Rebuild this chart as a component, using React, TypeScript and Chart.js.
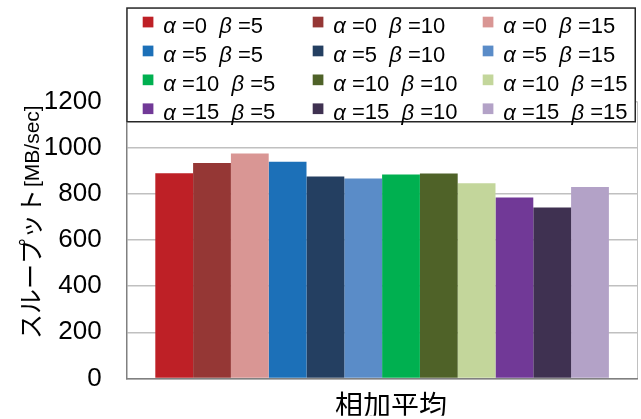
import React, { useEffect, useRef } from 'react';
import { Chart, registerables } from 'chart.js';

Chart.register(...registerables);

const categories = ['相加平均'];
const alphaValues = [0, 0, 0, 5, 5, 5, 10, 10, 10, 15, 15, 15];
const betaValues = [5, 10, 15, 5, 10, 15, 5, 10, 15, 5, 10, 15];
const throughput = [890, 934, 975, 940, 876, 867, 884, 889, 846, 784, 741, 830];
const seriesColors = [
  '#BE2026', '#953735', '#D99694',
  '#1C70B8', '#243F61', '#5A8CC8',
  '#00B050', '#4F6228', '#C3D69B',
  '#713997', '#3F3151', '#B3A2C7',
];
const yMin = 0;
const yMax = 1200;
const yStep = 200;
const yTitleMain = 'スループット';
const yTitleUnit = '[MB/sec]';

const SANS = '"Liberation Sans", Arial, sans-serif';
const CJK = '"Noto Sans CJK JP", sans-serif';

const gridLegend = {
  id: 'gridLegend',
  afterDraw(chart: any) {
    const ctx = chart.ctx;
    const area = chart.chartArea;
    ctx.save();
    const left = area.left - 0.5;
    const right = area.right - 1.5;
    const top = 7.3;
    const bottom = 122.5;
    ctx.fillStyle = '#ffffff';
    ctx.fillRect(left, top, right - left, bottom - top);
    ctx.strokeStyle = '#262626';
    ctx.lineWidth = 1.5;
    ctx.strokeRect(left + 0.75, top + 0.75, right - left - 1.5, bottom - top - 1.5);
    chart.data.datasets.forEach((ds: any, i: number) => {
      const col = i % 3;
      const row = Math.floor(i / 3);
      const x = left + 16.5 + col * 170;
      const yc = 26.7 + row * 28.9;
      ctx.fillStyle = ds.backgroundColor;
      ctx.fillRect(x, yc - 10, 10.7, 10.7);
      let tx = x + 20.6;
      ctx.fillStyle = '#000000';
      ctx.textBaseline = 'middle';
      ctx.textAlign = 'left';
      const parts: [string, boolean][] = [
        ['α', true],
        [' =' + ds.alpha, false],
        ['  ', false],
        ['β', true],
        [' =' + ds.beta, false],
      ];
      for (const [t, it] of parts) {
        ctx.font = (it ? 'italic ' : '') + '22px ' + SANS;
        ctx.fillText(t, tx, yc);
        tx += ctx.measureText(t).width;
      }
    });
    ctx.restore();
  },
};

const yTitle = {
  id: 'yTitle',
  afterDraw(chart: any) {
    const ctx = chart.ctx;
    ctx.save();
    ctx.translate(39.5, 339);
    ctx.rotate(-Math.PI / 2);
    ctx.fillStyle = '#000000';
    ctx.textBaseline = 'alphabetic';
    ctx.textAlign = 'left';
    ctx.font = '25px ' + CJK;
    ctx.fillText(yTitleMain, 0, 0);
    const w = ctx.measureText(yTitleMain).width;
    ctx.font = '21px ' + SANS;
    ctx.fillText(yTitleUnit, w + 2, -0.5);
    ctx.restore();
  },
};

export default function App() {
  const ref = useRef<HTMLCanvasElement | null>(null);
  useEffect(() => {
    document.body.style.margin = '0';
    const canvas = ref.current;
    if (!canvas) return;
    const chart = new Chart(canvas, {
      type: 'bar',
      data: {
        labels: categories,
        datasets: throughput.map((v, i) => ({
          label: `α=${alphaValues[i]} β=${betaValues[i]}`,
          alpha: alphaValues[i],
          beta: betaValues[i],
          data: [v],
          backgroundColor: seriesColors[i],
          borderWidth: 0,
          categoryPercentage: 0.888,
          barPercentage: 1.0,
        })) as any,
      },
      options: {
        responsive: false,
        animation: false,
        devicePixelRatio: 1,
        layout: { padding: { left: 0, right: 3.5, top: 101.7, bottom: 0 } },
        plugins: { legend: { display: false }, tooltip: { enabled: false } },
        scales: {
          x: {
            grid: { display: true, offset: true, color: '#C0C0C0', lineWidth: 1, drawTicks: false },
            border: { display: true, color: '#808080', width: 1.5 },
            ticks: { color: '#000000', font: { family: CJK, size: 28 }, padding: 10, labelOffset: 9 },
            afterFit: (scale: any) => { scale.height = 37.3; },
          },
          y: {
            min: yMin,
            max: yMax,
            ticks: {
              stepSize: yStep,
              color: '#000000',
              font: { family: SANS, size: 26 },
              padding: 25,
              callback: (v: any) => String(v),
            },
            grid: { color: '#C0C0C0', lineWidth: 1.5, drawTicks: false },
            border: { display: true, color: '#808080', width: 1.5 },
            afterFit: (scale: any) => { scale.width = 126.7; },
          },
        },
      },
      plugins: [gridLegend, yTitle],
    });
    return () => chart.destroy();
  }, []);
  return (
    <div style={{ width: 641, height: 419 }}>
      <canvas ref={ref} width={641} height={419} style={{ display: 'block' }} />
    </div>
  );
}
